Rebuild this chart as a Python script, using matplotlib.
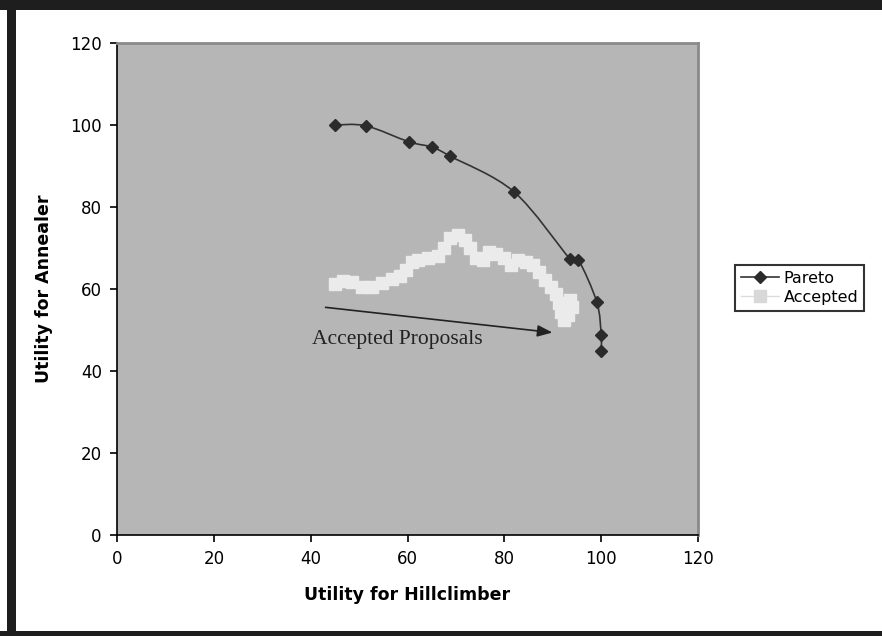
import matplotlib
matplotlib.use("Agg")
import matplotlib.pyplot as plt
import numpy as np
from matplotlib.patches import Rectangle, PathPatch
from matplotlib.path import Path
from matplotlib.lines import Line2D

# Pareto frontier
pareto_x = [45.0, 51.4, 60.3, 65.1, 68.8, 82.0, 93.6, 95.3, 99.1, 100.0, 100.0]
pareto_y = [100.0, 99.8, 95.9, 94.6, 92.4, 83.7, 67.3, 67.1, 56.8, 48.8, 44.9]

# accepted proposals
acc_x = [45.0, 46.7, 48.5, 50.6, 52.7, 54.7, 56.8, 58.4, 59.7, 60.9, 62.2, 64.2,
         66.3, 67.5, 68.8, 70.4, 71.9, 72.9, 74.1, 75.6, 76.8, 78.3, 79.9, 81.4,
         82.8, 84.5, 85.9, 87.2, 88.4, 89.6, 90.7, 91.3, 91.7, 92.3, 93.1, 94.0, 93.6]
acc_y = [61.2, 62.0, 61.7, 60.5, 60.5, 61.5, 62.4, 63.2, 64.6, 66.6, 67.1, 67.6,
         68.0, 70.0, 72.4, 73.2, 72.0, 70.0, 67.6, 67.1, 69.0, 68.5, 67.6, 65.9,
         67.1, 66.6, 65.9, 64.1, 62.2, 60.5, 58.8, 56.6, 54.4, 52.4, 53.7, 55.6, 57.3]

ticks = [0, 20, 40, 60, 80, 100, 120]

PARETO_C = "#2b2b2b"
ACC_C = "#ebebeb"


def smooth_path(xs, ys):
    # excel style smoothed line: bezier segments through the points
    p = np.column_stack([xs, ys])
    p = np.vstack([p[0], p, p[-1]])
    verts = [tuple(p[1])]
    codes = [Path.MOVETO]
    for i in range(1, len(p) - 2):
        c1 = p[i] + (p[i + 1] - p[i - 1]) / 6
        c2 = p[i + 1] - (p[i + 2] - p[i]) / 6
        verts += [tuple(c1), tuple(c2), tuple(p[i + 1])]
        codes += [Path.CURVE4] * 3
    return Path(verts, codes)


fig = plt.figure(figsize=(8.82, 6.36), dpi=100)
fig.patch.set_facecolor("white")
ax = fig.add_axes([0.1327, 0.1588, 0.6587, 0.7736])
ax.set_facecolor("#b6b6b6")

ax.plot(acc_x, acc_y, color="#dcdcdc", lw=1, marker="s", markersize=9,
        markerfacecolor=ACC_C, markeredgecolor=ACC_C, zorder=2)
ax.add_patch(PathPatch(smooth_path(pareto_x, pareto_y), facecolor="none",
                       edgecolor="#333333", lw=1.2, zorder=3))
ax.plot(pareto_x, pareto_y, ls="none", marker="D", markersize=6.5,
        markerfacecolor=PARETO_C, markeredgecolor=PARETO_C, zorder=4)

# arrow annotation
ax.annotate("", xy=(90.5, 49.3), xytext=(42.5, 55.6),
            arrowprops=dict(arrowstyle="-|>,head_length=0.9,head_width=0.35",
                            color="#222222", lw=1.2))
ax.text(40.3, 47.6, "Accepted Proposals", family="Liberation Serif", fontsize=15.5,
        color="#222222", va="center", ha="left")

ax.set_xlim(0, 120)
ax.set_ylim(0, 120)
ax.set_xticks(ticks)
ax.set_yticks(ticks)
ax.tick_params(direction="out", length=5, width=1.2, labelsize=12, color="black", pad=6)
for s in ["left", "bottom"]:
    ax.spines[s].set_color("black")
    ax.spines[s].set_linewidth(1.2)
for s in ["top", "right"]:
    ax.spines[s].set_color("#8a8a8a")
    ax.spines[s].set_linewidth(2)

ax.set_xlabel("Utility for Hillclimber", fontsize=12.5, fontweight="bold", labelpad=13)
ax.set_ylabel("Utility for Annealer", fontsize=12.5, fontweight="bold", labelpad=12)

handles = [
    Line2D([], [], color="#333333", lw=1.2, marker="D", markersize=6.5,
           markerfacecolor=PARETO_C, markeredgecolor=PARETO_C),
    Line2D([], [], color="#dcdcdc", lw=1, marker="s", markersize=9,
           markerfacecolor="#d8d8d8", markeredgecolor="#d8d8d8"),
]
leg = fig.legend(handles, ["Pareto", "Accepted"], loc="center left",
                 bbox_to_anchor=(735 / 882, 1 - 288 / 636), borderaxespad=0,
                 fontsize=11.5, frameon=True, fancybox=False, handlelength=2.4,
                 borderpad=0.35, labelspacing=0.25, handletextpad=0.3)
leg.get_frame().set_edgecolor("black")
leg.get_frame().set_linewidth(1.5)

# outer black frame of the original screenshot
fig.add_artist(Rectangle((0, 1 - 10 / 636), 1, 10 / 636, transform=fig.transFigure,
                         color="#1e1e1e", lw=0))
fig.add_artist(Rectangle((7 / 882, 0), 9 / 882, 1, transform=fig.transFigure,
                         color="#1e1e1e", lw=0))
fig.add_artist(Rectangle((0, 0), 1, 5 / 636, transform=fig.transFigure,
                         color="#1e1e1e", lw=0))

fig.savefig("out.png", dpi=100)
